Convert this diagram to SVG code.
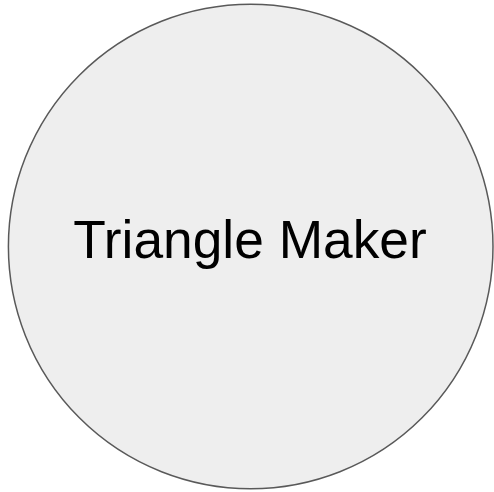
<svg xmlns="http://www.w3.org/2000/svg" width="494" height="492" viewBox="0 0 494 492">
<style>
.node{fill:#eeeeee;stroke:#595959;stroke-width:1.5}
.label{font-family:"Liberation Sans",Arial,sans-serif;font-size:53.3px;fill:#000000;text-anchor:middle}
</style>
<rect width="494" height="492" fill="#ffffff"/>
<g id="triangle-maker">
<circle class="node" cx="250.7" cy="246.5" r="242.3"/>
<text class="label" x="250" y="258.3">Triangle Maker</text>
</g>
<g id="connectors"/>
</svg>
